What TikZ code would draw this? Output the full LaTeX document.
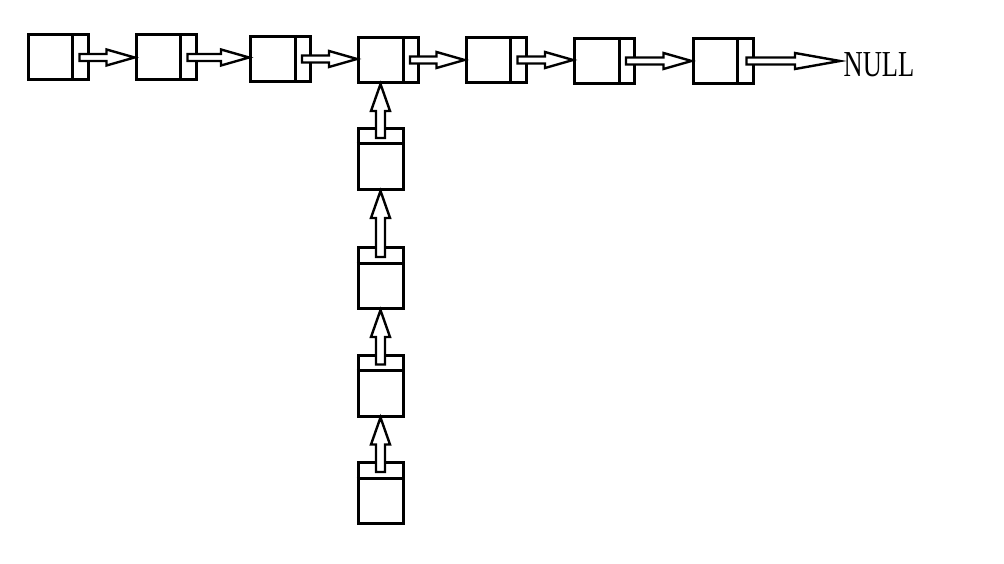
\documentclass[tikz,border=0pt]{standalone}
\usepackage{fontspec}
\setmainfont{Liberation Serif}
\usetikzlibrary{calc}
\tikzset{
  cell/.style={draw, line width=3pt, minimum width=60pt, minimum height=45pt, inner sep=0pt},
  vcell/.style={cell, minimum width=45pt, minimum height=61pt},
  hptr/.style={fill=white, line width=2.4pt, to path={let \p1=(\tikztostart), \p2=(\tikztotarget) in
    (\x1,\y1-3.5pt) -- (\x2-#1,\y1-3.5pt) -- (\x2-#1,\y1-8pt) -- (\x2,\y1)
    -- (\x2-#1,\y1+8pt) -- (\x2-#1,\y1+3.5pt) -- (\x1,\y1+3.5pt) -- cycle}},
  hptr/.default=28pt,
  vptr/.style={fill=white, line width=2.4pt, to path={let \p1=(\tikztostart), \p2=(\tikztotarget) in
    (\x1-4.5pt,\y1) -- (\x1-4.5pt,\y2-#1) -- (\x1-9.5pt,\y2-#1) -- (\x1,\y2)
    -- (\x1+9.5pt,\y2-#1) -- (\x1+4.5pt,\y2-#1) -- (\x1+4.5pt,\y1) -- cycle}},
  vptr/.default=27pt
}
\begin{document}
\begin{tikzpicture}[x=1pt, y=-1pt]
  \useasboundingbox (0,0) rectangle (1004,564);
  % main list
  \foreach \i/\x/\y in {1/58/57.5, 2/166/57.5, 3/280.5/59, 4/388.5/60,
                        5/496/60, 6/604.5/61, 7/723/61}{%
    \node[cell] (n\i) at (\x,\y) {};
    \draw[line width=3pt] ([xshift=-17pt]n\i.north east) -- ([xshift=-17pt]n\i.south east);
  }
  % branch list
  \foreach \i/\y in {1/159, 2/278, 3/385.5, 4/493}{%
    \node[vcell] (v\i) at (380.5,\y) {};
    \draw[line width=3pt] ([yshift=-17pt]v\i.north west) -- ([yshift=-17pt]v\i.north east);
  }
  \node[inner sep=3.5pt, font=\fontsize{26.5}{26.5}\selectfont] (null) at (879,65) {\scalebox{1}[1.38]{NULL}};

  \foreach \i [evaluate=\i as \j using int(\i+1)] in {1,...,6}
    \draw[hptr] ([xshift=-10pt]n\i.east) to (n\j.west);
  \draw[hptr=45pt] ([xshift=-8pt]n7.east) to (null.west);

  \draw[vptr] ([yshift=-11pt]v1.north) to (n4.south);
  \foreach \i [evaluate=\i as \j using int(\i-1)] in {2,3,4}
    \draw[vptr] ([yshift=-11pt]v\i.north) to (v\j.south);
\end{tikzpicture}
\end{document}
